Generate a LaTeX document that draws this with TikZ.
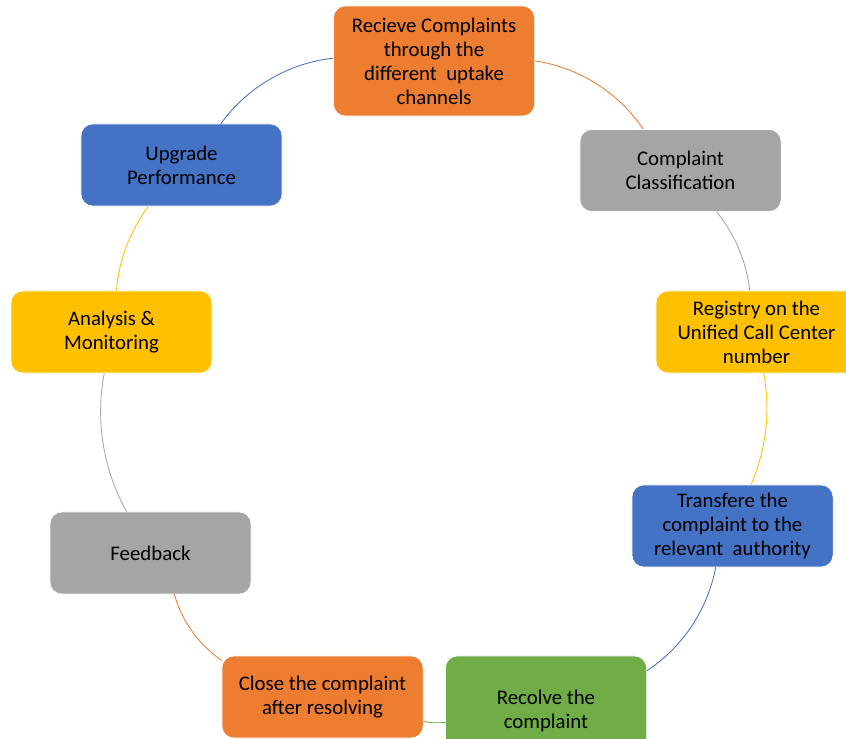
\documentclass[tikz,border=0pt]{standalone}
\usepackage{fontspec}
\setmainfont{Carlito}
\usepackage{xcolor}
\definecolor{OfficeOrange}{HTML}{ED7D31}
\definecolor{OfficeGray}{HTML}{A5A5A5}
\definecolor{OfficeGold}{HTML}{FFC000}
\definecolor{OfficeBlue}{HTML}{4472C4}
\definecolor{OfficeGreen}{HTML}{70AD47}
\usepackage{tikz}
\usetikzlibrary{arrows.meta,positioning,calc}

\begin{document}
\begin{tikzpicture}[x=0.025cm,y=0.025cm,
  stage/.style={draw=white,rounded corners=8.5pt,align=center,font=\fontsize{14.8}{17}\selectfont,minimum width=5.025cm,minimum height=2.05cm,inner sep=3pt},
  link/.style={line width=0.6pt,looseness=0.88}
]
  \useasboundingbox (0,0) rectangle (846,738);
  \clip (0,0) rectangle (846,738);
  \node[stage,fill=OfficeOrange,minimum height=2.75cm] (recv) at (434,677) {Recieve Complaints\\through the\\different~ uptake\\channels};
  \node[stage,fill=OfficeGray] (class) at (680.5,567.5) {Complaint\\Classification};
  \node[stage,fill=OfficeGold] (reg) at (756.5,406) {Registry on the\\Unified Call Center\\number};
  \node[stage,fill=OfficeBlue] (trans) at (732.5,212) {Transfere the\\complaint to the\\relevant~ authority};
  \node[stage,fill=OfficeGreen,minimum height=2.75cm] (solve) at (546,27) {Recolve the\\complaint};
  \node[stage,fill=OfficeOrange] (close) at (322.5,41) {Close the complaint\\after resolving};
  \node[stage,fill=OfficeGray] (feed) at (150.5,185) {Feedback};
  \node[stage,fill=OfficeGold] (anal) at (111.5,406) {Analysis \&\\Monitoring};
  \node[stage,fill=OfficeBlue] (upg) at (181.5,573) {Upgrade\\Performance};
  \draw[link,OfficeOrange] (recv) to[bend left=24] (class);
  \draw[link,OfficeGray] (class) to[bend left=16] (reg);
  \draw[link,OfficeGold] (reg) to[bend left=17] (trans);
  \draw[link,OfficeBlue] (trans) to[bend left=23] (solve);
  \draw[link,OfficeGreen] (solve) to[bend left=10] (close);
  \draw[link,OfficeOrange] (close) to[bend left=20] (feed);
  \draw[link,OfficeGray] (feed) to[bend left=20] (anal);
  \draw[link,OfficeGold] (anal) to[bend left=16] (upg);
  \draw[link,OfficeBlue] (upg) to[bend left=24] (recv);
\end{tikzpicture}
\end{document}
